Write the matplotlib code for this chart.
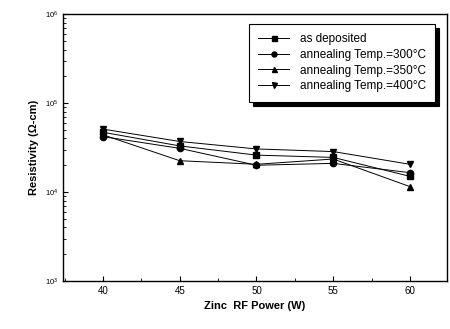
import matplotlib
matplotlib.use("Agg")
import matplotlib.pyplot as plt
from matplotlib.ticker import LogLocator, MultipleLocator, NullFormatter

plt.rcParams["font.family"] = ["Liberation Sans", "DejaVu Sans"]

# Zinc RF power (W)
power = [40, 45, 50, 55, 60]

# Resistivity (ohm-cm) for each treatment
as_deposited = [47000, 33000, 26000, 24500, 15000]
temp_300 = [42000, 31000, 20000, 21000, 16500]
temp_350 = [44000, 22500, 20500, 23500, 11500]
temp_400 = [51000, 37000, 30500, 28500, 20500]

labels = ["as deposited", "annealing Temp.=300\u00b0C",
          "annealing Temp.=350\u00b0C", "annealing Temp.=400\u00b0C"]
markers = ["s", "o", "^", "v"]

fig = plt.figure(figsize=(4.5, 3.29), dpi=100)
ax = fig.add_axes([0.14, 0.146, 0.853, 0.811])

for vals, lab, mk in zip([as_deposited, temp_300, temp_350, temp_400], labels, markers):
    ax.plot(power, vals, color="black", lw=0.7, marker=mk, markersize=4.5,
            label=lab)

ax.set_yscale("log")
ax.set_ylim(1e3, 1e6)
ax.set_xlim(37.4, 62.4)
ax.xaxis.set_major_locator(MultipleLocator(5))
ax.xaxis.set_minor_locator(MultipleLocator(2.5))
ax.yaxis.set_major_locator(LogLocator(base=10, numticks=10))
ax.yaxis.set_minor_locator(LogLocator(base=10, subs=range(2, 10), numticks=10))
ax.yaxis.set_minor_formatter(NullFormatter())
ax.tick_params(which="both", direction="in", labelsize=7)
ax.tick_params(axis="y", labelsize=5.5)
for s in ax.spines.values():
    s.set_linewidth(1.0)

ax.set_xlabel("Zinc  RF Power (W)", fontweight="bold", fontsize=8)
ax.set_ylabel("Resistivity (\u03a9-cm)", fontweight="bold", fontsize=8)

leg = ax.legend(loc="upper right", bbox_to_anchor=(0.985, 0.985), fontsize=8.5,
                frameon=True, fancybox=False,
                shadow={"color": "black", "alpha": 1.0, "ox": 3, "oy": -3},
                handlelength=2.6, markerscale=0.8,
                labelspacing=0.3, borderpad=0.8, handletextpad=0.9)
leg.get_frame().set_edgecolor("black")
leg.get_frame().set_linewidth(0.8)

fig.savefig("out.png", dpi=100)
